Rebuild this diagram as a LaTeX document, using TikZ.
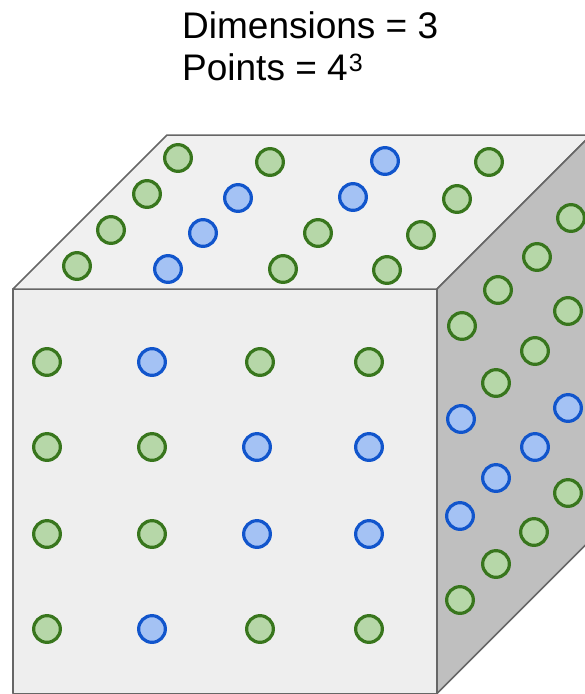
\documentclass[tikz,border=0pt]{standalone}
\usepackage{fontspec}
\setmainfont{Liberation Sans}

\definecolor{greenFill}{HTML}{B6D7A8}
\definecolor{greenLine}{HTML}{38761D}
\definecolor{blueFill}{HTML}{A4C2F4}
\definecolor{blueLine}{HTML}{1155CC}
\definecolor{frontFill}{HTML}{EEEEEE}
\definecolor{topFill}{HTML}{F0F0F0}
\definecolor{sideFill}{HTML}{BFBFBF}
\definecolor{edgeLine}{HTML}{666666}

\tikzset{
  face/.style={draw=edgeLine,line width=1.5pt,line join=round},
  gPt/.style={circle,draw=greenLine,fill=greenFill,line width=3.2pt,minimum size=26.7pt,inner sep=0pt},
  bPt/.style={circle,draw=blueLine,fill=blueFill,line width=3.2pt,minimum size=26.7pt,inner sep=0pt},
  caption/.style={anchor=base west,inner sep=0pt,font=\fontsize{37}{42}\selectfont}
}

\begin{document}
\begin{tikzpicture}[x=1pt,y=-1pt]
    \useasboundingbox (0,0) rectangle (585,694);
    \clip (0,0) rectangle (585,694);

    \node[caption] at (182,38) (dimText) {Dimensions = 3};
    \node[caption] at (182,80) (ptsText) {Points = 4\kern1pt\raisebox{9pt}{\fontsize{25}{25}\selectfont 3}};

    % cube corners
    \coordinate (FTL) at (13,289);
    \coordinate (FTR) at (437,289);
    \coordinate (FBL) at (13,693.5);
    \coordinate (FBR) at (437,693.5);
    \coordinate (BTL) at (167,135);
    \coordinate (BTR) at (591,135);
    \coordinate (BBR) at (591,539.5);

    \filldraw[face,fill=frontFill] (FTL) -- (FTR) -- (FBR) -- (FBL) -- cycle;
    \filldraw[face,fill=topFill] (FTL) -- (BTL) -- (BTR) -- (FTR) -- cycle;
    \filldraw[face,fill=sideFill] (FTR) -- (BTR) -- (BBR) -- (FBR) -- cycle;

    % top face
    \node[gPt] at (178,158) (Ta1) {};
    \node[gPt] at (270,162) (Ta2) {};
    \node[bPt] at (385,161) (Ta3) {};
    \node[gPt] at (489,162) (Ta4) {};
    \node[gPt] at (147,194) (Tb1) {};
    \node[bPt] at (238,198) (Tb2) {};
    \node[bPt] at (353,197) (Tb3) {};
    \node[gPt] at (457,199) (Tb4) {};
    \node[gPt] at (111,230) (Tc1) {};
    \node[bPt] at (203,233) (Tc2) {};
    \node[gPt] at (318,233) (Tc3) {};
    \node[gPt] at (421,235) (Tc4) {};
    \node[gPt] at (77,266)  (Td1) {};
    \node[bPt] at (168,269) (Td2) {};
    \node[gPt] at (283,269) (Td3) {};
    \node[gPt] at (387,270) (Td4) {};

    % front face
    \node[gPt] at (47,362)  (Fa1) {};
    \node[bPt] at (152,362) (Fa2) {};
    \node[gPt] at (260,362) (Fa3) {};
    \node[gPt] at (369,362) (Fa4) {};
    \node[gPt] at (47,447)  (Fb1) {};
    \node[gPt] at (152,447) (Fb2) {};
    \node[bPt] at (257,447) (Fb3) {};
    \node[bPt] at (369,447) (Fb4) {};
    \node[gPt] at (47,534)  (Fc1) {};
    \node[gPt] at (152,534) (Fc2) {};
    \node[bPt] at (257,534) (Fc3) {};
    \node[bPt] at (369,534) (Fc4) {};
    \node[gPt] at (47,629)  (Fd1) {};
    \node[bPt] at (152,629) (Fd2) {};
    \node[gPt] at (260,629) (Fd3) {};
    \node[gPt] at (369,629) (Fd4) {};

    % right face
    \node[gPt] at (462,326) (Ra1) {};
    \node[gPt] at (498,290) (Ra2) {};
    \node[gPt] at (537,257) (Ra3) {};
    \node[gPt] at (571,218) (Ra4) {};
    \node[bPt] at (461,419) (Rb1) {};
    \node[gPt] at (496,383) (Rb2) {};
    \node[gPt] at (535,351) (Rb3) {};
    \node[gPt] at (568,311) (Rb4) {};
    \node[bPt] at (460,516) (Rc1) {};
    \node[bPt] at (496,478) (Rc2) {};
    \node[bPt] at (535,447) (Rc3) {};
    \node[bPt] at (568,408) (Rc4) {};
    \node[gPt] at (460,600) (Rd1) {};
    \node[gPt] at (496,564) (Rd2) {};
    \node[gPt] at (534,532) (Rd3) {};
    \node[gPt] at (568,493) (Rd4) {};
\end{tikzpicture}
\end{document}
